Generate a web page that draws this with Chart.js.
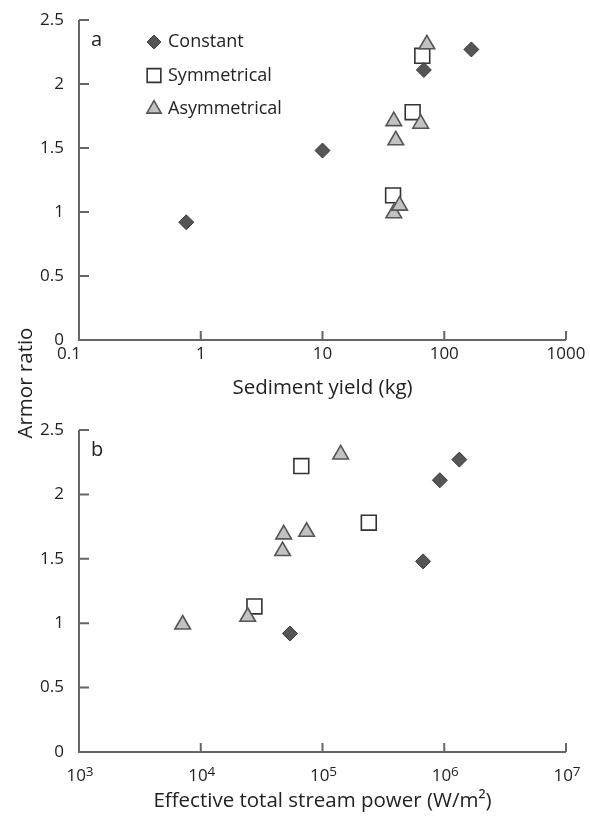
<!DOCTYPE html>
<html>
<head>
<meta charset="utf-8">
<script src="https://cdn.jsdelivr.net/npm/chart.js@4.4.0/dist/chart.umd.min.js"></script>
<style>
  html, body { margin: 0; padding: 0; background: #fff; }
  #wrap { position: relative; width: 590px; height: 823px; overflow: hidden; }
  #panelA { position: absolute; left: 0; top: 0; }
  #panelB { position: absolute; left: 0; top: 410px; }
  #ytitle {
    position: absolute; left: -76px; top: 370px; width: 200px; height: 26px;
    line-height: 26px; text-align: center; transform: rotate(-90deg);
    font-family: "Open Sans", sans-serif; font-size: 20.5px; color: #222;
  }
</style>
</head>
<body>
<div id="wrap">
  <canvas id="panelA" width="590" height="410"></canvas>
  <canvas id="panelB" width="590" height="413"></canvas>
  <div id="ytitle">Armor ratio</div>
</div>
<script>
// Armor ratio for each run, grouped by hydrograph shape
const seriesNames = ['Constant', 'Symmetrical', 'Asymmetrical'];
const armorConstant = [0.92, 1.48, 2.11, 2.27];
const armorSymmetrical = [1.13, 1.78, 2.22];
const armorAsymmetrical = [0.99, 1.05, 1.56, 1.69, 1.71, 2.31];

// Sediment yield (kg), same run order as the armor ratios
const yieldConstant = [0.76, 10, 68, 167];
const yieldSymmetrical = [38, 55, 66];
const yieldAsymmetrical = [38.5, 43, 40, 64, 38.5, 72];

// Effective total stream power (W/m2), same run order
const powerConstant = [5.4e4, 6.7e5, 9.2e5, 1.33e6];
const powerSymmetrical = [2.76e4, 2.4e5, 6.7e4];
const powerAsymmetrical = [7.1e3, 2.43e4, 4.7e4, 4.8e4, 7.4e4, 1.41e5];

// Axis ticks
const armorTicks = [0, 0.5, 1, 1.5, 2, 2.5];
const armorTickLabels = ['0', '0.5', '1', '1.5', '2', '2.5'];
const yieldTicks = [0.1, 1, 10, 100, 1000];
const yieldTickLabels = ['0.1', '1', '10', '100', '1000'];
const powerTicks = [1e3, 1e4, 1e5, 1e6, 1e7];
const powerTickBase = ['10', '10', '10', '10', '10'];
const powerTickExp = ['3', '4', '5', '6', '7'];

const FONT = '"Open Sans", sans-serif';
const TEXT = '#222';
const AXIS = '#666';

const styles = {
  Constant:     { pointStyle: 'rectRot',  radius: 7.5,  backgroundColor: '#555', borderColor: '#3a3a3a', borderWidth: 1,   order: 0 },
  Symmetrical:  { pointStyle: 'rect',     radius: 10.5, backgroundColor: '#fff', borderColor: '#333',    borderWidth: 1.6, order: 2 },
  Asymmetrical: { pointStyle: 'triangle', radius: 9,    backgroundColor: '#c2c2c2', borderColor: '#555', borderWidth: 1.6, order: 1 }
};

function pairs(xs, ys) { return xs.map((x, i) => ({ x: x, y: ys[i] })); }

function makeDatasets(xc, xs, xa) {
  const xsets = [xc, xs, xa];
  const ysets = [armorConstant, armorSymmetrical, armorAsymmetrical];
  return seriesNames.map((name, k) => {
    const s = styles[name];
    return {
      label: name,
      data: pairs(xsets[k], ysets[k]),
      pointStyle: s.pointStyle,
      pointRadius: s.radius,
      pointHoverRadius: s.radius,
      backgroundColor: s.backgroundColor,
      borderColor: s.borderColor,
      pointBorderWidth: s.borderWidth,
      borderWidth: s.borderWidth,
      order: s.order,
      clip: false
    };
  });
}

// Axis lines with ticks pointing into the plot
const axisFrame = {
  id: 'axisFrame',
  beforeDatasetsDraw(chart) {
    const { ctx, chartArea: a, scales: { x, y } } = chart;
    ctx.save();
    ctx.strokeStyle = AXIS;
    ctx.lineWidth = 2;
    ctx.beginPath();
    ctx.moveTo(a.left, a.top);
    ctx.lineTo(a.left, a.bottom);
    ctx.lineTo(a.right, a.bottom);
    ctx.stroke();
    ctx.beginPath();
    y.ticks.forEach(t => {
      const py = y.getPixelForValue(t.value);
      ctx.moveTo(a.left, py); ctx.lineTo(a.left + 10, py);
    });
    x.ticks.forEach(t => {
      const px = x.getPixelForValue(t.value);
      ctx.moveTo(px, a.bottom); ctx.lineTo(px, a.bottom - 9);
    });
    ctx.stroke();
    ctx.restore();
  }
};

// Panel letter in the upper-left corner of the plot
const panelTag = {
  id: 'panelTag',
  afterDraw(chart, args, opts) {
    const { ctx, chartArea: a } = chart;
    ctx.save();
    ctx.font = '20px ' + FONT;
    ctx.fillStyle = TEXT;
    ctx.textAlign = 'left';
    ctx.textBaseline = 'middle';
    ctx.fillText(opts.text, a.left + 12, a.top + 20);
    ctx.restore();
  }
};

// Marker key drawn inside panel a
const markerKey = {
  id: 'markerKey',
  afterDraw(chart, args, opts) {
    if (!opts.show) return;
    const { ctx, chartArea: a } = chart;
    ctx.save();
    chart.data.datasets
      .slice()
      .sort((p, q) => seriesNames.indexOf(p.label) - seriesNames.indexOf(q.label))
      .forEach((ds, i) => {
        const cy = a.top + 22 + i * 33.5;
        const cx = a.left + 75;
        const r = ds.pointRadius * 0.92;
        ctx.fillStyle = ds.backgroundColor;
        ctx.strokeStyle = ds.borderColor;
        ctx.lineWidth = ds.pointBorderWidth;
        Chart.helpers.drawPoint(ctx, { pointStyle: ds.pointStyle, radius: r, borderWidth: ds.pointBorderWidth, rotation: 0 }, cx, cy);
        ctx.font = '18px ' + FONT;
        ctx.fillStyle = TEXT;
        ctx.textAlign = 'left';
        ctx.textBaseline = 'middle';
        ctx.fillText(ds.label, a.left + 89, cy);
      });
    ctx.restore();
  }
};

// Sediment yield labels; the first one sits left of the origin
const yieldLabels = {
  id: 'yieldLabels',
  afterDraw(chart, args, opts) {
    if (!opts.show) return;
    const { ctx, chartArea: a, scales: { x } } = chart;
    ctx.save();
    ctx.fillStyle = TEXT;
    ctx.font = '17px ' + FONT;
    ctx.textBaseline = 'middle';
    yieldTicks.forEach((v, i) => {
      const px = x.getPixelForValue(v);
      if (i === 0) {
        ctx.textAlign = 'right';
        ctx.fillText(yieldTickLabels[i], px + 2, a.bottom + 14);
      } else {
        ctx.textAlign = 'center';
        ctx.fillText(yieldTickLabels[i], px, a.bottom + 14);
      }
    });
    ctx.restore();
  }
};

// Power-of-ten labels under the stream power axis
const powerLabels = {
  id: 'powerLabels',
  afterDraw(chart, args, opts) {
    if (!opts.show) return;
    const { ctx, chartArea: a, scales: { x } } = chart;
    ctx.save();
    ctx.fillStyle = TEXT;
    ctx.textBaseline = 'alphabetic';
    powerTicks.forEach((v, i) => {
      const px = x.getPixelForValue(v);
      ctx.font = '17px ' + FONT;
      const wb = ctx.measureText(powerTickBase[i]).width;
      ctx.font = '13.5px ' + FONT;
      const we = ctx.measureText(powerTickExp[i]).width;
      const left = px - (wb + we) / 2 + 1;
      const base = a.bottom + 29;
      ctx.font = '17px ' + FONT;
      ctx.textAlign = 'left';
      ctx.fillText(powerTickBase[i], left, base);
      ctx.font = '13.5px ' + FONT;
      ctx.fillText(powerTickExp[i], left + wb, base - 5);
    });
    ctx.restore();
  }
};

function makeChart(id, cfg) {
  return new Chart(document.getElementById(id), {
    type: 'scatter',
    data: { datasets: cfg.datasets },
    options: {
      responsive: false,
      animation: false,
      events: [],
      layout: { padding: { left: 0, right: 24, top: 20, bottom: 0 } },
      plugins: {
        legend: { display: false },
        tooltip: { enabled: false },
        panelTag: { text: cfg.tag },
        markerKey: { show: cfg.key },
        yieldLabels: { show: cfg.axisLabels === 'yield' },
        powerLabels: { show: cfg.axisLabels === 'power' }
      },
      scales: {
        x: {
          type: 'logarithmic',
          min: cfg.xTicks[0],
          max: cfg.xTicks[cfg.xTicks.length - 1],
          afterBuildTicks: s => { s.ticks = cfg.xTicks.map(v => ({ value: v })); },
          afterFit: s => { s.height = cfg.xHeight; },
          grid: { display: false },
          border: { display: false },
          ticks: { display: false },
          title: {
            display: true,
            text: cfg.xTitle,
            color: TEXT,
            font: { family: FONT, size: 20.5 },
            padding: { top: 0, bottom: cfg.titlePad }
          }
        },
        y: {
          min: 0,
          max: 2.5,
          afterBuildTicks: s => { s.ticks = armorTicks.map(v => ({ value: v })); },
          afterFit: s => { s.width = 79; },
          grid: { display: false },
          border: { display: false },
          ticks: {
            padding: 7,
            color: TEXT,
            font: { family: FONT, size: 17 },
            callback: (v, i) => armorTickLabels[i]
          }
        }
      }
    },
    plugins: [axisFrame, panelTag, markerKey, yieldLabels, powerLabels]
  });
}

makeChart('panelA', {
  datasets: makeDatasets(yieldConstant, yieldSymmetrical, yieldAsymmetrical),
  xTicks: yieldTicks,
  xTitle: 'Sediment yield (kg)',
  xHeight: 70,
  titlePad: 10,
  tag: 'a',
  key: true,
  axisLabels: 'yield'
});

makeChart('panelB', {
  datasets: makeDatasets(powerConstant, powerSymmetrical, powerAsymmetrical),
  xTicks: powerTicks,
  xTitle: 'Effective total stream power (W/m²)',
  xHeight: 71,
  titlePad: 10,
  tag: 'b',
  key: false,
  axisLabels: 'power'
});
</script>
</body>
</html>
